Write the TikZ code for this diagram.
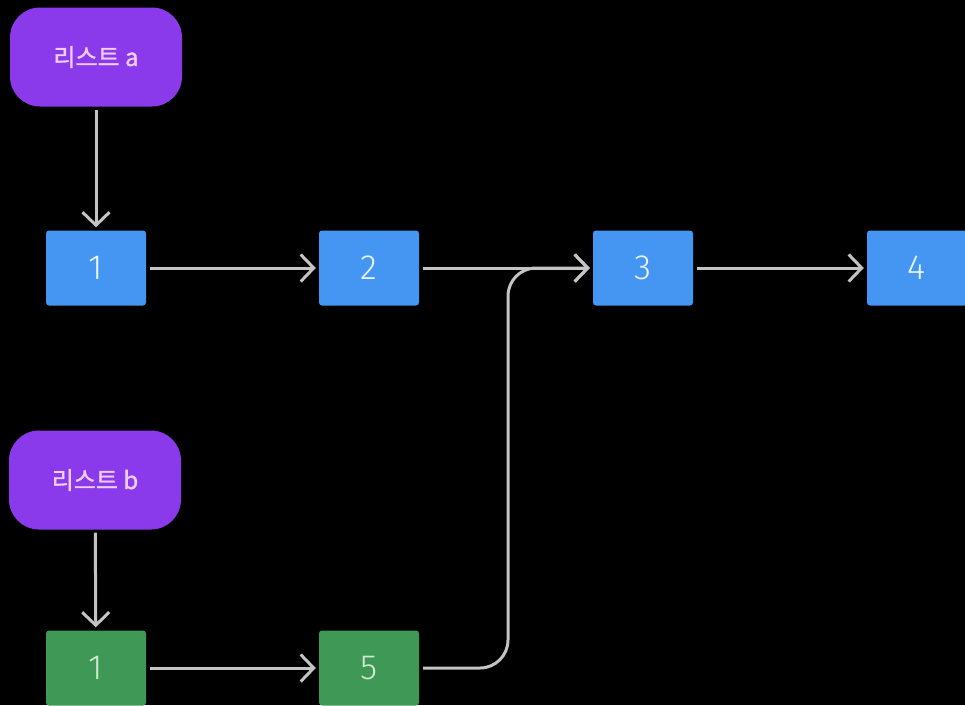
\documentclass[tikz,border=0pt]{standalone}
\usepackage{fontspec}
\setmainfont{Fira Sans Light}
\newfontfamily\krfont[FakeBold=1.3]{Noto Sans CJK KR}
\usetikzlibrary{arrows.meta}
\definecolor{bgblack}{HTML}{000000}
\definecolor{listpurple}{HTML}{8A3AEB}
\definecolor{listtext}{HTML}{F0CDF2}
\definecolor{nodeblue}{HTML}{4596F3}
\definecolor{bluetext}{HTML}{EAF6FF}
\definecolor{nodegreen}{HTML}{3F9855}
\definecolor{greentext}{HTML}{CFEBD2}
\definecolor{linkgray}{HTML}{C4C4C4}
\tikzset{
  head/.style={rectangle, rounded corners=30pt, fill=listpurple, text=listtext,
    minimum width=172pt, minimum height=99pt, font=\krfont\fontsize{24}{24}\selectfont},
  bluebox/.style={rectangle, rounded corners=3pt, fill=nodeblue, text=bluetext,
    minimum width=100pt, minimum height=75pt, font=\fontsize{35}{35}\selectfont},
  greenbox/.style={rectangle, rounded corners=3pt, fill=nodegreen, text=greentext,
    minimum width=100pt, minimum height=75pt, font=\fontsize{35}{35}\selectfont},
  link/.style={draw=linkgray, line width=3pt,
    -{Straight Barb[length=13pt, width=27pt, line width=3pt]}}
}
\begin{document}
\begin{tikzpicture}[x=1pt, y=-1pt]
  \fill[bgblack] (0,0) rectangle (965,705);
  \useasboundingbox (0,0) rectangle (965,705);

  % list heads
  \node[head] (la) at (96,57) {리스트 a};
  \node[head] (lb) at (95,480) {리스트 b};

  % list a nodes
  \node[bluebox] (a1) at (96,268) {1};
  \node[bluebox] (a2) at (369,268) {2};
  \node[bluebox] (a3) at (643,268) {3};
  \node[bluebox] (a4) at (917,268) {4};

  % list b nodes
  \node[greenbox] (b1) at (96,668) {1};
  \node[greenbox] (b5) at (369,668) {5};

  \coordinate (join) at (508,0);

  % links
  \draw[link, shorten <=3pt, shorten >=3pt] (la) -- (a1);
  \draw[link, shorten <=3pt, shorten >=3pt] (lb) -- (b1);
  \draw[link, shorten <=4pt, shorten >=3pt] (a1) -- (a2);
  \draw[link, shorten <=4pt, shorten >=3pt] (a2) -- (a3);
  \draw[link, shorten <=4pt, shorten >=3pt] (a3) -- (a4);
  \draw[link, shorten <=4pt, shorten >=3pt] (b1) -- (b5);
  \draw[link, rounded corners=28pt, shorten <=4pt, shorten >=3pt]
    (b5.east) -- (join |- b5.east) -- (join |- a3.west) -- (a3.west);
\end{tikzpicture}
\end{document}
